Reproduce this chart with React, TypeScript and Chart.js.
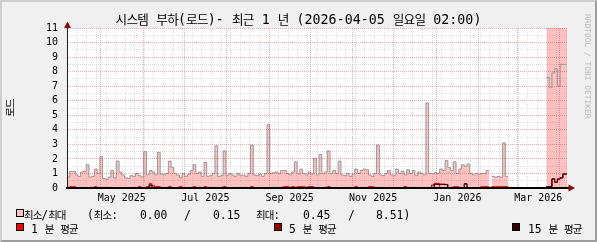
import React, { useEffect, useRef } from 'react';
import { Chart, registerables } from 'chart.js';

Chart.register(...registerables);

// ---------- text ----------
const TITLE = '시스템 부하(로드)- 최근 1 년 (2026-04-05 일요일 02:00)';
const Y_TITLE = '로드';
const WATERMARK = 'RRDTOOL / TOBI OETIKER';

// ---------- time axis ----------
const RANGE_START = Date.UTC(2025, 3, 6, 12); // x = 0 (days)
const RANGE_DAYS = 365;
const BIN_DAYS = 2;
const MAJOR_MONTHS: [number, number][] = [
  [2025, 5], [2025, 6], [2025, 7], [2025, 8], [2025, 9], [2025, 10],
  [2025, 11], [2025, 12], [2026, 1], [2026, 2], [2026, 3], [2026, 4],
];
const LABEL_MONTHS: [number, number][] = [
  [2025, 5], [2025, 7], [2025, 9], [2025, 11], [2026, 1], [2026, 3],
];
const LABEL_TEXTS = ['May 2025', 'Jul 2025', 'Sep 2025', 'Nov 2025', 'Jan 2026', 'Mar 2026'];
const FIRST_WEEK: [number, number, number] = [2025, 4, 7];

// ---------- values (one per 2-day bin) ----------
const maxLoad: (number | null)[] = [
  0.75, 1.15, 1.15, 0.9, 0.8, 1.1, 1.15, 1.6, 0.75, 0.8,
  1.3, 1.0, 2.15, 0.65, 0.6, 0.75, 1.2, 0.7, 1.85, 1.1,
  0.9, 0.7, 0.65, 0.85, 0.8, 1.0, 0.85, 0.75, 2.5, 0.9,
  1.2, 1.1, 0.9, 2.45, 0.95, 0.9, 1.0, 1.85, 1.4, 1.0,
  0.9, 0.7, 1.0, 0.8, 0.95, 1.2, 1.6, 1.0, 1.1, 0.8,
  1.75, 0.8, 0.85, 1.0, 2.9, 0.8, 0.85, 2.55, 0.85, 1.0,
  0.9, 0.8, 1.0, 0.85, 0.9, 0.8, 1.0, 2.95, 0.9, 0.85,
  0.95, 0.8, 1.0, 4.35, 1.0, 1.05, 1.1, 1.0, 1.2, 1.2,
  1.0, 0.9, 1.1, 1.8, 0.95, 1.3, 1.0, 0.9, 1.1, 0.95,
  2.05, 0.9, 2.3, 1.0, 1.1, 2.55, 1.0, 1.2, 1.0, 1.85,
  0.9, 0.85, 1.0, 0.8, 0.95, 1.3, 1.0, 1.2, 1.3, 1.25,
  0.9, 0.8, 1.0, 2.95, 0.9, 0.85, 1.0, 1.2, 0.9, 0.85,
  1.3, 1.0, 1.15, 0.9, 1.25, 1.0, 1.2, 0.85, 1.1, 1.0,
  0.9, 5.85, 1.0, 0.95, 1.05, 1.0, 1.3, 1.2, 1.9, 1.4,
  1.2, 1.8, 1.0, 1.3, 1.6, 1.5, 1.65, 1.0, 0.9, 1.0,
  0.95, 1.0, 1.0, 1.2, null, 0.8, 0.75, 0.8, 0.75, 3.1,
  0.8, null, null, null, null, null, null, null, null, null,
  null, null, null, null, null, 7.6, 6.9, 7.9, 8.2, 7.0,
  8.5, 8.5, 8.5,
];
// bins where the min/max band fills the whole height
const fullBand: Record<number, number> = {
  175: 11, 176: 11, 177: 11, 178: 11, 179: 11, 180: 11, 181: 11, 182: 11,
};
// averages: zero wherever data exists, except these bins
const avg1Peaks: Record<number, number> = {
  1: 0.1, 2: 0.1, 10: 0.1, 26: 0.1, 29: 0.1, 30: 0.3, 32: 0.1, 33: 0.1, 37: 0.1, 41: 0.1,
  46: 0.1, 50: 0.1, 57: 0.1, 67: 0.1, 79: 0.1, 80: 0.1, 82: 0.1, 84: 0.1, 85: 0.1,
  86: 0.1, 88: 0.1, 89: 0.1, 95: 0.1, 105: 0.1, 110: 0.1, 111: 0.1, 123: 0.1,
  134: 0.32, 135: 0.3, 141: 0.1, 142: 0.1, 151: 0.1, 152: 0.1, 153: 0.1,
  155: 0.1, 156: 0.1, 157: 0.1, 158: 0.1, 159: 0.1, 160: 0.1,
  175: 0.1, 176: 0.1, 177: 0.62, 178: 0.4, 179: 0.62, 180: 0.7, 181: 0.96, 182: 0.96,
};
const avg5Peaks: Record<number, number> = {
  30: 0.22, 31: 0.15, 133: 0.2, 134: 0.27, 135: 0.27, 136: 0.27, 137: 0.27, 138: 0.25, 145: 0.3,
  175: 0.1, 176: 0.1, 177: 0.62, 178: 0.4, 179: 0.62, 180: 0.7, 181: 0.96, 182: 0.96,
};
const avg15Peaks: Record<number, number> = {
  30: 0.18, 134: 0.24, 135: 0.24, 136: 0.24, 137: 0.24, 138: 0.22, 145: 0.28,
  175: 0.1, 176: 0.1, 177: 0.62, 178: 0.4, 179: 0.62, 180: 0.7, 181: 0.96, 182: 0.96,
};

// legend numbers
const STAT_MIN_MIN = '0.00';
const STAT_MIN_MAX = '0.15';
const STAT_MAX_MIN = '0.45';
const STAT_MAX_MAX = '8.51';

// ---------- colours ----------
const PINK = '#FFC0C0';
const MAX_LINE = '#989898';
const AVG1 = '#FF0000';
const AVG5 = '#990000';
const AVG15 = '#330000';
const GRID = 'rgba(143,143,143,0.27)';
const MGRID = 'rgba(210,40,40,0.38)';
const MONO = '"DejaVu Sans Mono", monospace';
const KR = '"Noto Sans CJK KR", sans-serif';

const dayOf = (y: number, m: number, d = 1) => (Date.UTC(y, m - 1, d) - RANGE_START) / 86400000;

type XT = { v: number; kind: 'minor' | 'major' | 'label'; text: string };
const buildXTicks = (): XT[] => {
  const out: XT[] = [];
  const majors = MAJOR_MONTHS.map(([y, m]) => dayOf(y, m, 1));
  for (let d = dayOf(...FIRST_WEEK); d <= RANGE_DAYS; d += 7) {
    if (!majors.some((mv) => Math.abs(mv - d) < 0.01)) out.push({ v: d, kind: 'minor', text: '' });
  }
  majors.forEach((v) => out.push({ v, kind: 'major', text: '' }));
  LABEL_MONTHS.forEach(([y, m], i) => {
    const s = dayOf(y, m, 1);
    const e = m === 12 ? dayOf(y + 1, 1, 1) : dayOf(y, m + 1, 1);
    out.push({ v: (s + e) / 2, kind: 'label', text: LABEL_TEXTS[i] });
  });
  return out.filter((t) => t.v >= 0 && t.v <= RANGE_DAYS).sort((a, b) => a.v - b.v);
};

const stepPoints = (vals: (number | null)[]) => {
  const pts: { x: number; y: number | null }[] = [];
  vals.forEach((v, i) => {
    const x0 = i * BIN_DAYS;
    if (v == null) {
      pts.push({ x: x0, y: null });
      return;
    }
    pts.push({ x: x0, y: v });
    const nx = vals[i + 1];
    if (nx == null) pts.push({ x: Math.min((i + 1) * BIN_DAYS, RANGE_DAYS), y: v });
  });
  return pts;
};

const withPeaks = (peaks: Record<number, number>) =>
  maxLoad.map((v, i) => (v == null ? null : peaks[i] ?? 0));

const bgPlugin = {
  id: 'canvasBg',
  beforeDraw(chart: any) {
    const { ctx, chartArea: a } = chart;
    ctx.save();
    ctx.fillStyle = '#FFFFFF';
    ctx.fillRect(a.left, a.top, a.right - a.left, a.bottom - a.top);
    ctx.restore();
  },
};

const arrowPlugin = {
  id: 'axisArrows',
  afterDraw(chart: any) {
    const { ctx, chartArea: a } = chart;
    ctx.save();
    ctx.strokeStyle = '#202020';
    ctx.lineWidth = 1;
    ctx.beginPath();
    ctx.moveTo(a.left + 0.5, a.top);
    ctx.lineTo(a.left + 0.5, a.top - 2);
    ctx.stroke();
    ctx.strokeStyle = '#000';
    ctx.lineWidth = 2;
    ctx.beginPath();
    ctx.moveTo(a.right, a.bottom);
    ctx.lineTo(a.right + 2, a.bottom);
    ctx.stroke();
    ctx.fillStyle = '#8B0A0A';
    ctx.beginPath();
    ctx.moveTo(a.left + 0.5, a.top - 6.5);
    ctx.lineTo(a.left - 3, a.top);
    ctx.lineTo(a.left + 4, a.top);
    ctx.closePath();
    ctx.fill();
    ctx.beginPath();
    ctx.moveTo(a.right + 8, a.bottom);
    ctx.lineTo(a.right + 1.5, a.bottom - 3.5);
    ctx.lineTo(a.right + 1.5, a.bottom + 3.5);
    ctx.closePath();
    ctx.fill();
    ctx.restore();
  },
};

const HANGUL = /[\u3131-\u318E\uAC00-\uD7A3]/;
function Mixed({ text, a, k, ls }: { text: string; a: number; k: number; ls: number }) {
  const parts = text.split(/([\u3131-\u318E\uAC00-\uD7A3]+)/).filter((p) => p !== '');
  return (
    <>
      {parts.map((p, i) =>
        HANGUL.test(p) ? (
          <span key={i} style={{ fontFamily: KR, fontSize: k, letterSpacing: ls }}>{p}</span>
        ) : (
          <span key={i} style={{ fontFamily: MONO, fontSize: a }}>{p}</span>
        ),
      )}
    </>
  );
}

const LEG_A = 11.4;
const LEG_K = 10.5;
const LEG_LS = -1;

function LegText({ x, y, text }: { x: number; y: number; text: string }) {
  return (
    <div style={{ position: 'absolute', left: x, top: y - 7, height: 14, lineHeight: '14px', whiteSpace: 'pre', color: '#000' }}>
      <Mixed text={text} a={LEG_A} k={LEG_K} ls={LEG_LS} />
    </div>
  );
}

function LegBox({ x, y, color }: { x: number; y: number; color: string }) {
  return (
    <div style={{ position: 'absolute', left: x, top: y, width: 8, height: 8, boxSizing: 'border-box', background: color, border: '1px solid #000' }} />
  );
}

export default function App() {
  const ref = useRef<HTMLCanvasElement | null>(null);

  useEffect(() => {
    document.body.style.margin = '0';
    const canvas = ref.current;
    if (!canvas) return;
    const xTicks = buildXTicks();
    const chart = new Chart(canvas, {
      type: 'line',
      data: {
        datasets: [
          { label: '15 분 평균', data: stepPoints(withPeaks(avg15Peaks)) as any, borderColor: AVG15, borderWidth: 1, stepped: true, pointRadius: 0, fill: false, spanGaps: false },
          { label: '5 분 평균', data: stepPoints(withPeaks(avg5Peaks)) as any, borderColor: AVG5, borderWidth: 1, stepped: true, pointRadius: 0, fill: false, spanGaps: false },
          { label: '1 분 평균', data: stepPoints(withPeaks(avg1Peaks)) as any, borderColor: AVG1, borderWidth: 1, stepped: true, pointRadius: 0, fill: false, spanGaps: false },
          { label: '최소/최대', data: stepPoints(maxLoad) as any, borderColor: MAX_LINE, backgroundColor: PINK, borderWidth: 1, stepped: true, pointRadius: 0, fill: 'origin', spanGaps: false },
          { label: 'band', data: stepPoints(maxLoad.map((_, i) => fullBand[i] ?? null)) as any, borderWidth: 0, borderColor: 'rgba(0,0,0,0)', backgroundColor: PINK, stepped: true, pointRadius: 0, fill: 'origin', spanGaps: false },
        ],
      },
      options: {
        animation: false,
        responsive: false,
        events: [],
        layout: { padding: { left: 0, right: 30, top: 28, bottom: 0 } },
        plugins: { legend: { display: false }, tooltip: { enabled: false }, title: { display: false } },
        scales: {
          x: {
            type: 'linear',
            min: 0,
            max: RANGE_DAYS,
            position: 'bottom',
            afterBuildTicks: (s: any) => {
              s.ticks = xTicks.map((t) => ({ value: t.v }));
            },
            afterFit: (s: any) => {
              s.height = 54;
            },
            grid: {
              z: 1,
              drawTicks: false,
              lineWidth: 1,
              color: (c: any) => {
                const t = xTicks[c.index];
                if (!t) return 'rgba(0,0,0,0)';
                return t.kind === 'major' ? MGRID : t.kind === 'minor' ? GRID : 'rgba(0,0,0,0)';
              },
              borderDash: [1, 1],
            } as any,
            border: { display: true, color: '#000', width: 2, dash: [1, 1], z: 2 } as any,
            ticks: {
              z: 2,
              autoSkip: false,
              maxRotation: 0,
              minRotation: 0,
              padding: 4,
              color: '#000',
              font: { family: MONO, size: 10 },
              callback: (_v: any, i: number) => (xTicks[i] ? xTicks[i].text : ''),
            },
          },
          y: {
            type: 'linear',
            min: 0,
            max: 11,
            afterFit: (s: any) => {
              s.width = 67;
            },
            grid: {
              z: 1,
              drawTicks: false,
              lineWidth: 1,
              color: (c: any) => (c.tick && Number.isInteger(c.tick.value) ? MGRID : GRID),
              borderDash: [1, 1],
            } as any,
            border: { display: true, color: '#202020', width: 1, dash: [1, 1], z: 2 } as any,
            ticks: {
              z: 2,
              stepSize: 0.5,
              autoSkip: false,
              padding: 9,
              color: '#000',
              font: { family: MONO, size: 10 },
              callback: (v: any) => (Number.isInteger(v) ? String(v) : ''),
            },
          },
        },
      },
      plugins: [bgPlugin, arrowPlugin],
    });
    return () => chart.destroy();
  }, []);

  return (
    <div style={{ position: 'relative', width: 597, height: 242, background: '#F0F0F0', overflow: 'hidden' }}>
      <canvas ref={ref} width={597} height={242} style={{ position: 'absolute', left: 0, top: 0, width: 597, height: 242 }} />
      {/* title */}
      <div style={{ position: 'absolute', left: 0, top: 11, width: 597, textAlign: 'center', lineHeight: '16px', whiteSpace: 'pre', color: '#000' }}>
        <Mixed text={TITLE} a={13.3} k={12.6} ls={-0.7} />
      </div>
      {/* y title */}
      <div style={{ position: 'absolute', left: 10, top: 108, transform: 'translate(-50%, -50%) rotate(-90deg)', whiteSpace: 'pre', fontFamily: KR, fontSize: 10.5, letterSpacing: -1, lineHeight: '12px', color: '#000' }}>
        {Y_TITLE}
      </div>
      {/* watermark */}
      <div style={{ position: 'absolute', left: 583, top: 14, writingMode: 'vertical-rl', fontFamily: MONO, fontSize: 7.9, lineHeight: '9px', color: '#B8B8B8', whiteSpace: 'pre' }}>
        {WATERMARK}
      </div>
      {/* legend row 1 */}
      <LegBox x={16} y={209} color={PINK} />
      <LegText x={24} y={214} text="최소/최대" />
      <LegText x={87} y={214} text="(최소:" />
      <LegText x={140} y={214} text={STAT_MIN_MIN} />
      <LegText x={184} y={214} text="/" />
      <LegText x={213} y={214} text={STAT_MIN_MAX} />
      <LegText x={256} y={214} text="최대:" />
      <LegText x={303} y={214} text={STAT_MAX_MIN} />
      <LegText x={348} y={214} text="/" />
      <LegText x={376} y={214} text={STAT_MAX_MAX + ')'} />
      {/* legend row 2 */}
      <LegBox x={16} y={223} color={AVG1} />
      <LegText x={31} y={227.5} text="1 분 평균" />
      <LegBox x={274} y={223} color={AVG5} />
      <LegText x={289} y={227.5} text="5 분 평균" />
      <LegBox x={512} y={223} color={AVG15} />
      <LegText x={528} y={227.5} text="15 분 평균" />
      {/* frame */}
      <div style={{ position: 'absolute', inset: 0, boxSizing: 'border-box', borderStyle: 'solid', borderWidth: 2, borderColor: '#CFCFCF #9E9E9E #9E9E9E #CFCFCF', pointerEvents: 'none' }} />
    </div>
  );
}
